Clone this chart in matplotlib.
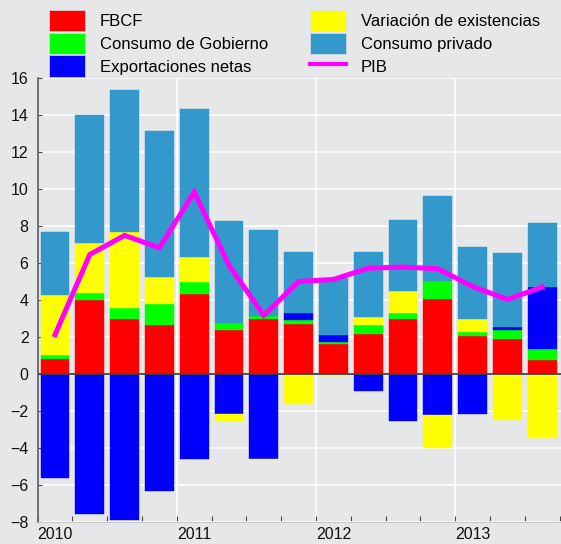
import numpy as np
import matplotlib.pyplot as plt
from matplotlib.patches import Patch
from matplotlib.lines import Line2D

plt.rcParams['font.family'] = ['Liberation Sans', 'DejaVu Sans']

# Quarterly contributions, 2010Q1 - 2013Q3
quarters = ["2010T1", "2010T2", "2010T3", "2010T4",
            "2011T1", "2011T2", "2011T3", "2011T4",
            "2012T1", "2012T2", "2012T3", "2012T4",
            "2013T1", "2013T2", "2013T3"]
fbcf = [0.83, 3.98, 2.95, 2.65, 4.30, 2.36, 2.95, 2.68, 1.62, 2.14, 2.99, 4.03, 2.07, 1.91, 0.74]
gobierno = [0.18, 0.39, 0.60, 1.13, 0.69, 0.39, 0.20, 0.22, 0.13, 0.51, 0.32, 1.01, 0.20, 0.48, 0.63]
exportaciones = [-5.60, -7.58, -7.90, -6.32, -4.57, -2.16, -4.57, 0.41, 0.37, -0.94, -2.55, -2.22, -2.18, 0.13, 3.35]
existencias = [3.27, 2.70, 4.14, 1.46, 1.35, -0.39, -0.07, -1.61, -0.12, 0.43, 1.17, -1.77, 0.73, -2.51, -3.45]
privado = [3.39, 6.93, 7.66, 7.90, 8.00, 5.53, 4.64, 3.31, 3.06, 3.51, 3.85, 4.59, 3.88, 4.01, 3.43]
pib = [2.12, 6.46, 7.49, 6.82, 9.83, 5.87, 3.17, 5.00, 5.11, 5.72, 5.78, 5.69, 4.73, 4.03, 4.70]

years = ["2010", "2011", "2012", "2013"]

series = [
    ("FBCF", fbcf, "#ff0000"),
    ("Consumo de Gobierno", gobierno, "#00ff00"),
    ("Exportaciones netas", exportaciones, "#0000ff"),
    ("Variación de existencias", existencias, "#ffff00"),
    ("Consumo privado", privado, "#3399cc"),
]

bg = "#e6e7e9"
fig = plt.figure(figsize=(5.61, 5.44), dpi=100, facecolor=bg)
ax = fig.add_axes([37.6 / 561, 22 / 544, 1 - 37.6 / 561, 444 / 544])
ax.set_facecolor(bg)

x = np.arange(len(quarters))
pos_base = np.zeros(len(x))
neg_base = np.zeros(len(x))
for name, vals, col in series:
    v = np.array(vals)
    base = np.where(v >= 0, pos_base, neg_base)
    ax.bar(x, v, bottom=base, width=0.83, color=col, edgecolor=col,
           linewidth=0.3, zorder=3)
    pos_base += np.where(v >= 0, v, 0)
    neg_base += np.where(v < 0, v, 0)

ax.plot(x, pib, color="#ff00ff", linewidth=3.6, zorder=4, solid_joinstyle="miter")
ax.axhline(0, color="#444444", linewidth=1.3, zorder=5)

ax.set_ylim(-8, 16)
ax.set_xlim(-0.5, 14.54)
ax.set_yticks(np.arange(-8, 17, 2))
ax.yaxis.grid(True, color="white", linewidth=1.2, zorder=0)

# year gridlines / labels (left-aligned at year start)
year_pos = np.arange(len(years)) * 4 - 0.5
for yp in year_pos[1:]:
    ax.axvline(yp, color="white", linewidth=1.2, zorder=0)
ax.set_xticks(np.arange(-0.5, 15, 1))
ax.set_xticklabels([])
for yp, lab in zip(year_pos, years):
    ax.text(yp, -8.25, lab, ha="left", va="top", fontsize=11.5, color="#111111")

ax.tick_params(axis="x", direction="in", length=4, color="#444444")
ax.tick_params(axis="y", direction="in", length=3, color="#444444",
               labelsize=11.5, labelcolor="#111111", pad=6.5)

for s in ["top", "right"]:
    ax.spines[s].set_visible(False)
ax.spines["left"].set_color("#666666")
ax.spines["left"].set_linewidth(1.3)
ax.spines["bottom"].set_color("#c8c8c8")

handles = [Patch(facecolor=c, edgecolor="#dddddd", linewidth=0.5) for _, _, c in series]
handles.append(Line2D([0], [0], color="#ff00ff", linewidth=3))
labels = [n for n, _, _ in series] + ["PIB"]
fig.legend(handles, labels, ncol=2, loc="upper left", bbox_to_anchor=(49 / 561, 1 - 10 / 544),
           frameon=False, fontsize=12, handlelength=2.16, handleheight=1.6,
           labelspacing=0.08, columnspacing=2.5, handletextpad=0.9, borderpad=0,
           borderaxespad=0)

fig.savefig("out.png", dpi=100, facecolor=bg)
